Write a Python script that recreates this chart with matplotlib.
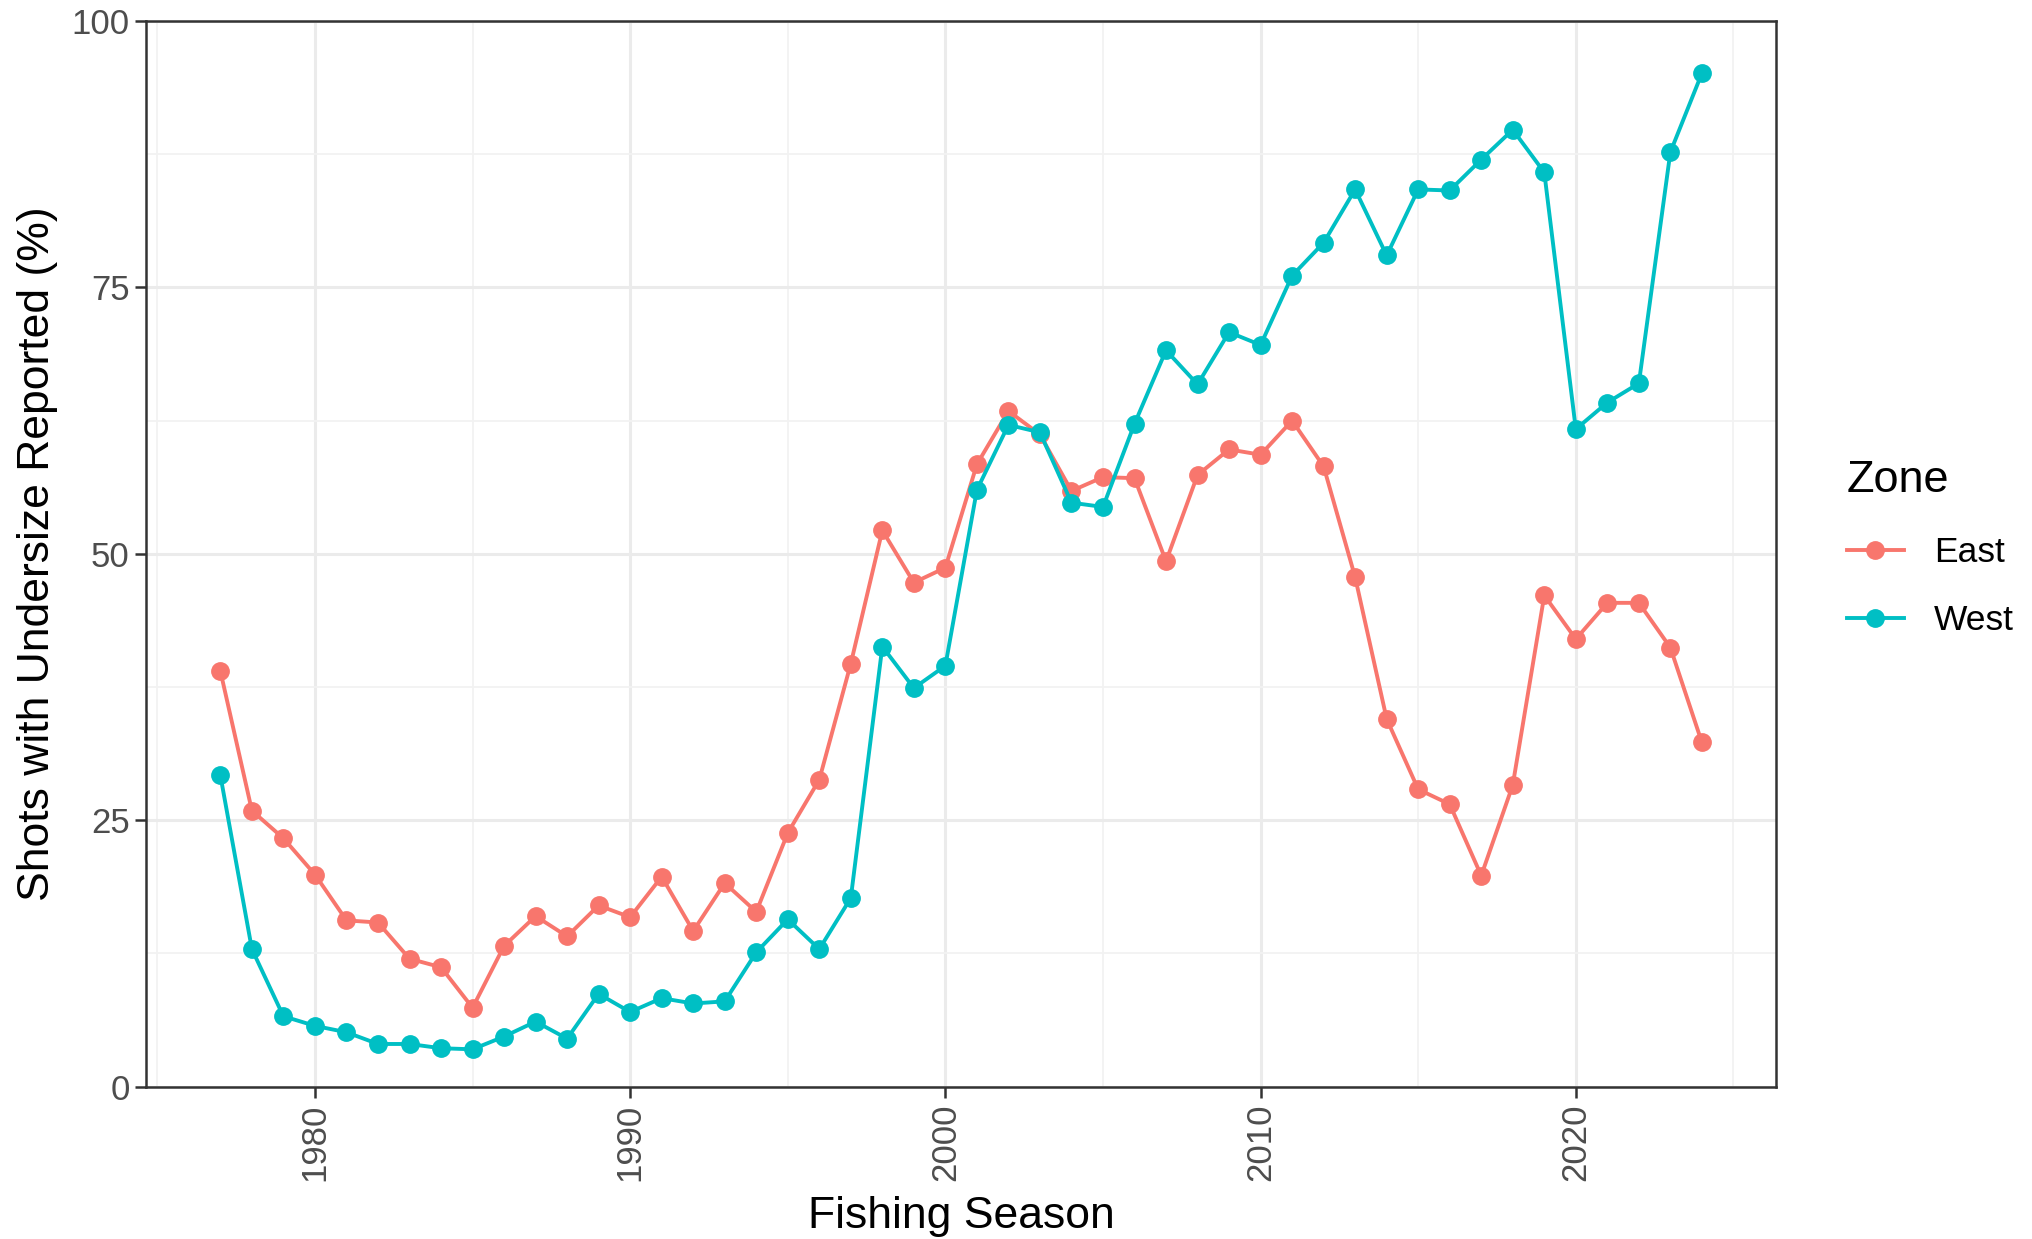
import numpy as np
import matplotlib.pyplot as plt

plt.rcParams['font.family'] = ['Liberation Sans', 'DejaVu Sans']

# data
years = list(range(1977, 2025))
east = [39.0, 25.9, 23.3, 19.9, 15.6, 15.4, 12.0, 11.2, 7.4, 13.2,
        16.0, 14.1, 17.0, 15.9, 19.7, 14.6, 19.1, 16.4, 23.8, 28.8,
        39.7, 52.2, 47.3, 48.7, 58.4, 63.4, 61.2, 55.9, 57.2, 57.1,
        49.3, 57.4, 59.8, 59.3, 62.5, 58.2, 47.8, 34.5, 27.9, 26.5,
        19.8, 28.3, 46.1, 42.0, 45.4, 45.4, 41.2, 32.3]
west = [29.2, 12.9, 6.6, 5.7, 5.1, 4.0, 4.0, 3.6, 3.5, 4.7,
        6.1, 4.5, 8.7, 7.0, 8.3, 7.8, 8.0, 12.6, 15.7, 12.9,
        17.7, 41.3, 37.4, 39.5, 56.0, 62.1, 61.4, 54.8, 54.4, 62.2,
        69.1, 65.9, 70.8, 69.6, 76.1, 79.2, 84.2, 78.0, 84.2, 84.1,
        87.0, 89.8, 85.8, 61.7, 64.2, 66.0, 87.7, 95.1]
zones = ['East', 'West']
colors = ['#F8766D', '#00BFC4']

fig = plt.figure(figsize=(20.32, 12.39), dpi=100)
ax = fig.add_axes([0.072, 0.123, 0.802, 0.860])

for name, vals, col in zip(zones, [east, west], colors):
    ax.plot(years, vals, color=col, lw=2.8, marker='o', ms=12.5, label=name, zorder=3)

# ggplot-style limits and grid
span = years[-1] - years[0]
ax.set_xlim(years[0] - 0.05 * span, years[-1] + 0.05 * span)
ax.set_ylim(0, 100)
ax.set_xticks([1980, 1990, 2000, 2010, 2020])
ax.set_xticks([1975, 1985, 1995, 2005, 2015, 2025], minor=True)
ax.set_yticks([0, 25, 50, 75, 100])
ax.set_yticks([12.5, 37.5, 62.5, 87.5], minor=True)
ax.grid(which='major', color='#EBEBEB', lw=2.2, zorder=0)
ax.grid(which='minor', color='#F2F2F2', lw=1.3, zorder=0)
ax.tick_params(which='minor', length=0)
ax.tick_params(which='major', length=8, width=1.8, color='#333333',
               labelsize=25, labelcolor='#4D4D4D', pad=4)
ax.tick_params(axis='x', labelrotation=90)
for s in ax.spines.values():
    s.set_color('#333333')
    s.set_linewidth(1.8)

ax.set_xlabel('Fishing Season', fontsize=32, labelpad=11)
ax.set_ylabel('Shots with Undersize Reported (%)', fontsize=32, labelpad=10)

leg = ax.legend(title='Zone', loc='center left', bbox_to_anchor=(1.024, 0.505),
                frameon=False, fontsize=25.5, title_fontsize=32.5,
                handlelength=1.6, handletextpad=0.85, labelspacing=1.0,
                alignment='left')

fig.savefig('out.png', dpi=100)
